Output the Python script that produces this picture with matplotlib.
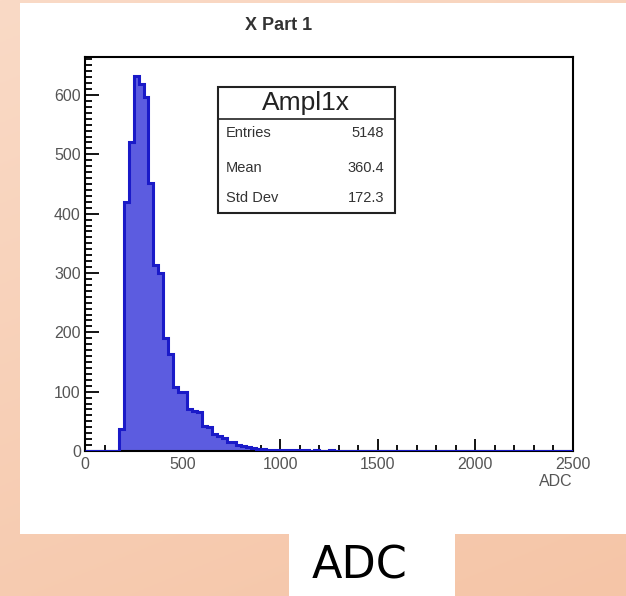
import matplotlib.pyplot as plt
import numpy as np
from matplotlib.patches import Rectangle
from matplotlib.lines import Line2D
from matplotlib.ticker import MultipleLocator

plt.rcParams["font.family"] = ["Liberation Sans", "DejaVu Sans"]

W, H = 626, 596

# histogram: 100 bins of 25 ADC from 0 to 2500
bin_width = 25
x_min, x_max = 0, 2500
counts_head = [0, 0, 0, 0, 0, 0, 0, 37, 419, 521, 632, 618, 597, 452, 313, 300,
               191, 164, 108, 100, 99, 70, 68, 66, 42, 40, 28, 25, 22, 16, 15, 10,
               8, 7, 5, 4, 3, 2, 2, 1, 1, 1, 2, 1, 1, 1, 0, 1, 0, 0, 1]
counts = np.zeros((x_max - x_min) // bin_width)
counts[:len(counts_head)] = counts_head
edges = np.arange(x_min, x_max + bin_width, bin_width)

hist_name = "Ampl1x"
stat_labels = ["Entries", "Mean", "Std Dev"]
stat_values = ["5148", "360.4", "172.3"]
title = "X Part 1"
x_label = "ADC"


def fx(px):
    return px / W


def fy(py):
    return 1 - py / H


fig = plt.figure(figsize=(W / 100, H / 100), dpi=100)

# peach background
bg = fig.add_axes([0, 0, 1, 1], zorder=-10)
yy, xx = np.mgrid[0:1:200j, 0:1:200j]
t = 0.7 * yy + 0.3 * xx
c0 = np.array([250, 218, 198]) / 255
c1 = np.array([245, 197, 167]) / 255
bg.imshow(c0 + t[..., None] * (c1 - c0), extent=[0, 1, 0, 1], aspect="auto")
bg.axis("off")

# white canvas and caption box
fig.patches.append(Rectangle((fx(20), fy(534)), 1 - fx(20), fy(3) - fy(534),
                             transform=fig.transFigure, facecolor="white",
                             edgecolor="none", zorder=-5))
fig.patches.append(Rectangle((fx(289), 0), fx(455) - fx(289), fy(533),
                             transform=fig.transFigure, facecolor="white",
                             edgecolor="none", zorder=-5))
fig.text(fx(360), fy(566), x_label, fontsize=32, family=["DejaVu Sans"],
         ha="center", va="center", color="black")

fig.text(fx(279), fy(25), title, fontsize=13, ha="center", va="center",
         color="#333333", fontweight="bold")

ax = fig.add_axes([fx(85), fy(451), fx(573) - fx(85), fy(57) - fy(451)])
ax.stairs(counts, edges, fill=True, color="#5c5ce0", zorder=2)
ax.stairs(counts, edges, color="#1a1ac8", linewidth=2.2, zorder=3)
ax.set_xlim(x_min, x_max)
ax.set_ylim(0, 664)

ax.xaxis.set_major_locator(MultipleLocator(500))
ax.xaxis.set_minor_locator(MultipleLocator(100))
ax.yaxis.set_major_locator(MultipleLocator(100))
ax.yaxis.set_minor_locator(MultipleLocator(10))
ax.tick_params(which="both", direction="in", top=False, right=False,
               colors="black", labelcolor="#555555", labelsize=11.5, width=1.3)
ax.tick_params(axis="x", which="major", length=9, pad=4)
ax.tick_params(axis="x", which="minor", length=4)
ax.tick_params(axis="y", which="major", length=10, pad=3)
ax.tick_params(axis="y", which="minor", length=5)
for s in ax.spines.values():
    s.set_linewidth(1.5)
ax.set_xlabel(x_label, loc="right", fontsize=11.5, color="#555555", labelpad=2)

# statistics box
bx0, by0, bx1, by1 = 218, 87, 395, 213
fig.patches.append(Rectangle((fx(bx0), fy(by1)), fx(bx1) - fx(bx0), fy(by0) - fy(by1),
                             transform=fig.transFigure, facecolor="white",
                             edgecolor="#222222", linewidth=1.5, zorder=5))
fig.lines.append(Line2D([fx(bx0), fx(bx1)], [fy(119), fy(119)],
                        transform=fig.transFigure, color="#222222",
                        linewidth=1.2, zorder=6))
fig.text(fx(306), fy(103), hist_name, fontsize=19, ha="center", va="center",
         color="#222222", zorder=7)
for row_y, lab, val in zip([133, 168, 198], stat_labels, stat_values):
    fig.text(fx(226), fy(row_y), lab, fontsize=10.5, ha="left", va="center",
             color="#333333", zorder=7)
    fig.text(fx(384), fy(row_y), val, fontsize=10.5, ha="right", va="center",
             color="#333333", zorder=7)

fig.savefig("out.png", dpi=100)
